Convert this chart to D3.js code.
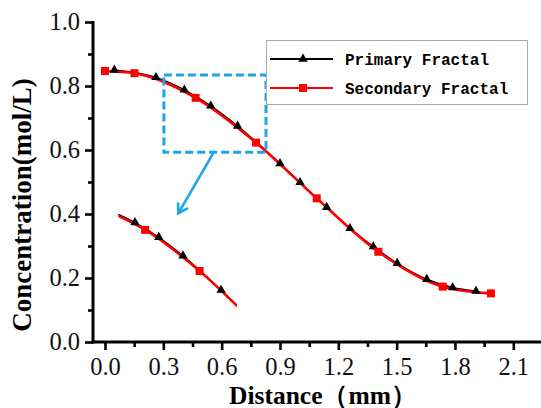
<!DOCTYPE html>
<html>
<head>
<meta charset="utf-8">
<script src="https://cdn.jsdelivr.net/npm/d3@7"></script>
<style>
  body { margin: 0; background: #fff; }
  svg { display: block; }
</style>
</head>
<body>
<div id="container"></div>
<script>
/* CONSTANTS AND GLOBALS */
const width = 541,
  height = 408;

// data
const seriesNames = ["Primary Fractal", "Secondary Fractal"];
const primaryX = [0.048, 0.262, 0.408, 0.544, 0.682, 0.900, 1.003, 1.140, 1.260, 1.380, 1.503, 1.655, 1.788, 1.908];
const primaryY = [0.850, 0.827, 0.788, 0.738, 0.675, 0.558, 0.499, 0.421, 0.355, 0.298, 0.246, 0.196, 0.170, 0.159];
const secondaryX = [0.000, 0.151, 0.466, 0.777, 1.089, 1.406, 1.737, 1.985];
const secondaryY = [0.847, 0.840, 0.763, 0.623, 0.449, 0.282, 0.173, 0.152];

const xTicks = [0.0, 0.3, 0.6, 0.9, 1.2, 1.5, 1.8, 2.1];
const xMinor = [0.15, 0.45, 0.75, 1.05, 1.35, 1.65, 1.95];
const yTicks = [0.0, 0.2, 0.4, 0.6, 0.8, 1.0];
const yMinor = [0.1, 0.3, 0.5, 0.7, 0.9];

// zoom box (data units), arrow, and inset range
const boxX = [0.303, 0.828];
const boxY = [0.593, 0.834];
const arrowFrom = [0.557, 0.590];
const arrowTo = [0.377, 0.402];
const insetRange = [0.313, 0.989];

const blue = "#1ea5e3";

const primary = primaryX.map((x, i) => ({ x: x, y: primaryY[i] }));
const secondary = secondaryX.map((x, i) => ({ x: x, y: secondaryY[i] }));

/* SCALES */
const xScale = d3.scaleLinear().domain([0, 2.1]).range([105, 513.3]);
const yScale = d3.scaleLinear().domain([0, 1]).range([342, 22]);

// inset scales (about 0.9 of the main scale)
const xIn = d3.scaleLinear().domain([0.3, 1.0]).range([116.1, 238.6]);
const yIn = d3.scaleLinear().domain([0.5, 0.85]).range([307.2, 204.3]);

const svg = d3.select("#container")
  .append("svg")
  .attr("width", width)
  .attr("height", height)
  .style("background-color", "#fff");

const tri = d3.symbol().type(d3.symbolTriangle).size(38);
const sq = d3.symbol().type(d3.symbolSquare).size(64);

/* AXES */
const yAxis = d3.axisLeft(yScale)
  .tickValues(yTicks)
  .tickFormat(d3.format(".1f"))
  .tickSize(8)
  .tickPadding(5);
const yAxisMinor = d3.axisLeft(yScale).tickValues(yMinor).tickFormat("").tickSize(5);

const xAxis = d3.axisBottom(xScale)
  .tickValues(xTicks)
  .tickFormat(d3.format(".1f"))
  .tickSize(8)
  .tickPadding(8);
const xAxisMinor = d3.axisBottom(xScale).tickValues(xMinor).tickFormat("").tickSize(5);

function styleAxis(g) {
  g.select(".domain").remove();
  g.selectAll("line").attr("stroke", "#000").attr("stroke-width", 2.6);
  g.selectAll("text")
    .attr("fill", "#111")
    .style("font-family", "'Liberation Serif', 'Times New Roman', serif")
    .style("font-size", "24.5px");
}

svg.append("g").attr("transform", "translate(93,0)").call(yAxis).call(styleAxis);
svg.append("g").attr("transform", "translate(93,0)").call(yAxisMinor).call(styleAxis);
svg.append("g").attr("transform", "translate(0,342)").call(xAxis).call(styleAxis);
svg.append("g").attr("transform", "translate(0,342)").call(xAxisMinor).call(styleAxis);

// axis lines
svg.append("line")
  .attr("x1", 93).attr("x2", 93)
  .attr("y1", yScale(1.0) - 1).attr("y2", 343.5)
  .attr("stroke", "#000").attr("stroke-width", 3);
svg.append("line")
  .attr("x1", 91.5).attr("x2", width)
  .attr("y1", 342).attr("y2", 342)
  .attr("stroke", "#000").attr("stroke-width", 3);

// axis titles
svg.append("text")
  .attr("x", 323).attr("y", 403.5)
  .attr("text-anchor", "middle")
  .style("font-family", "'Liberation Serif', 'Times New Roman', serif")
  .style("font-weight", "bold")
  .style("font-size", "25.5px")
  .text("Distance（mm）");

svg.append("text")
  .attr("transform", "translate(31,205) rotate(-90)")
  .attr("text-anchor", "middle")
  .style("font-family", "'Liberation Serif', 'Times New Roman', serif")
  .style("font-weight", "bold")
  .style("font-size", "27px")
  .text("Concentration(mol/L)");

/* LINES */
const line = d3.line()
  .x(d => xScale(d.x))
  .y(d => yScale(d.y))
  .curve(d3.curveMonotoneX);

svg.append("path")
  .datum(primary)
  .attr("d", line)
  .attr("fill", "none")
  .attr("stroke", "#000")
  .attr("stroke-width", 1.5);

svg.append("path")
  .datum(secondary)
  .attr("d", line)
  .attr("fill", "none")
  .attr("stroke", "#f00")
  .attr("stroke-width", 2.6);

svg.selectAll("path.tri")
  .data(primary)
  .join("path")
  .attr("class", "tri")
  .attr("transform", d => `translate(${xScale(d.x)},${yScale(d.y)})`)
  .attr("d", tri)
  .attr("fill", "#000");

svg.selectAll("path.sq")
  .data(secondary)
  .join("path")
  .attr("class", "sq")
  .attr("transform", d => `translate(${xScale(d.x)},${yScale(d.y)})`)
  .attr("d", sq)
  .attr("fill", "#f00");

/* ZOOM BOX + ARROW */
svg.append("rect")
  .attr("x", xScale(boxX[0]))
  .attr("y", yScale(boxY[1]))
  .attr("width", xScale(boxX[1]) - xScale(boxX[0]))
  .attr("height", yScale(boxY[0]) - yScale(boxY[1]))
  .attr("fill", "none")
  .attr("stroke", blue)
  .attr("stroke-width", 3)
  .attr("stroke-dasharray", "8,4");

const ax1 = xScale(arrowFrom[0]), ay1 = yScale(arrowFrom[1]);
const ax2 = xScale(arrowTo[0]), ay2 = yScale(arrowTo[1]);
const ang = Math.atan2(ay2 - ay1, ax2 - ax1);
const head = 11;
svg.append("line")
  .attr("x1", ax1).attr("y1", ay1)
  .attr("x2", ax2).attr("y2", ay2)
  .attr("stroke", blue).attr("stroke-width", 2.6);
svg.append("path")
  .attr("d", `M${ax2 + head * Math.cos(ang + Math.PI - 0.55)},${ay2 + head * Math.sin(ang + Math.PI - 0.55)}
    L${ax2},${ay2}
    L${ax2 + head * Math.cos(ang + Math.PI + 0.55)},${ay2 + head * Math.sin(ang + Math.PI + 0.55)}`)
  .attr("fill", "none")
  .attr("stroke", blue)
  .attr("stroke-width", 2.6);

/* INSET */
svg.append("clipPath")
  .attr("id", "insetClip")
  .append("rect")
  .attr("x", xIn(insetRange[0]))
  .attr("y", 150)
  .attr("width", xIn(insetRange[1]) - xIn(insetRange[0]))
  .attr("height", 200);

const lineIn = d3.line()
  .x(d => xIn(d.x))
  .y(d => yIn(d.y))
  .curve(d3.curveMonotoneX);

const inset = svg.append("g").attr("clip-path", "url(#insetClip)");
inset.append("path")
  .datum(primary)
  .attr("d", lineIn)
  .attr("fill", "none")
  .attr("stroke", "#000")
  .attr("stroke-width", 1.4);
inset.append("path")
  .datum(secondary)
  .attr("d", lineIn)
  .attr("fill", "none")
  .attr("stroke", "#f00")
  .attr("stroke-width", 2.4);

const inRange = d => d.x >= insetRange[0] && d.x <= insetRange[1];
svg.selectAll("path.triIn")
  .data(primary.filter(inRange))
  .join("path")
  .attr("class", "triIn")
  .attr("transform", d => `translate(${xIn(d.x)},${yIn(d.y)})`)
  .attr("d", tri)
  .attr("fill", "#000");
svg.selectAll("path.sqIn")
  .data(secondary.filter(inRange))
  .join("path")
  .attr("class", "sqIn")
  .attr("transform", d => `translate(${xIn(d.x)},${yIn(d.y)})`)
  .attr("d", sq)
  .attr("fill", "#f00");

/* LEGEND */
const legend = svg.append("g");
legend.append("rect")
  .attr("x", 266.5).attr("y", 40.5)
  .attr("width", 261).attr("height", 64)
  .attr("fill", "#fff")
  .attr("stroke", "#aaa")
  .attr("stroke-width", 1);

const legendColors = ["#000", "#f00"];
const legendSymbols = [tri, sq];
seriesNames.forEach((name, i) => {
  const ly = 59 + i * 29;
  legend.append("line")
    .attr("x1", 270).attr("x2", 333)
    .attr("y1", ly).attr("y2", ly)
    .attr("stroke", legendColors[i])
    .attr("stroke-width", 2);
  legend.append("path")
    .attr("transform", `translate(303,${ly})`)
    .attr("d", legendSymbols[i])
    .attr("fill", legendColors[i]);
  legend.append("text")
    .attr("x", 345).attr("y", ly)
    .attr("dy", "0.35em")
    .style("font-family", "'Liberation Mono', 'Courier New', monospace")
    .style("font-weight", "bold")
    .style("font-size", "16px")
    .text(name);
});
</script>
</body>
</html>
